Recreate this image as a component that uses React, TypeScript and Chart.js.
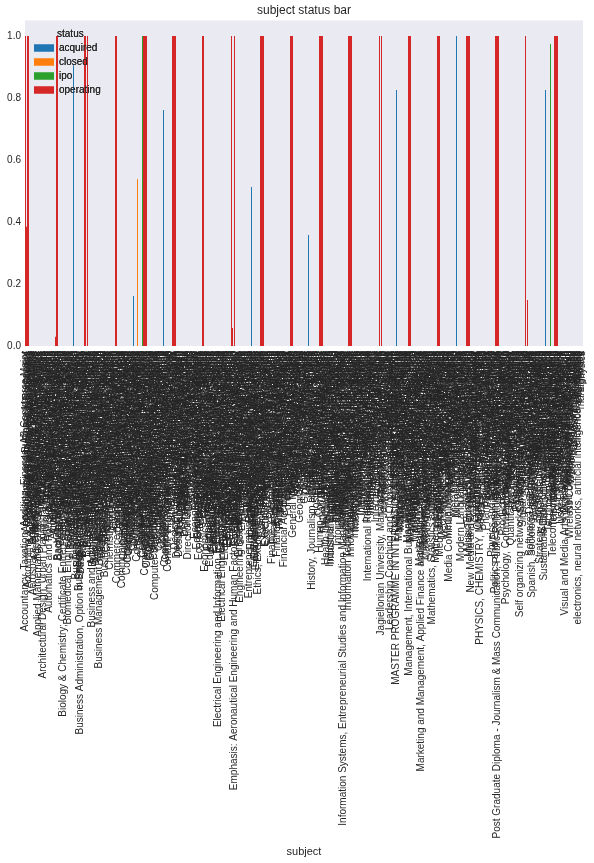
import { useEffect, useRef } from "react";
import { Chart, registerables } from "chart.js";

Chart.register(...registerables);

// ---------- categories (subject), in plotted order ----------
const subjectsA: string[] = [
  "Accountancy, Taxation, Auditing, Finance; AB Commerce Major", // 0
  "Accountancy and Business Management",
  "Accountancy and Finance, Economics",
  "Accounting & Finance, International Business Studies",
  "Accounting and Financial Management",
  "Accounting and Information Systems",
  "Actuarial Science and Statistics",
  "Advertising and Marketing Communications",
  "Aerospace Engineering, Mechanical Engineering Minor",
  "Aerospace Engineering and Astronautics",
  "African American Studies, Political Science", // 10
  "Agricultural Economics and Rural Development",
  "American Studies and History, Literature",
  "Applied Mathematics and Computational Science, Physics Minor",
  "Applied Mathematics and Statistics",
  "Applied Physics and Electronics",
  "Applied Economics and Management",
  "Arabic and Middle Eastern Studies",
  "Architectural Design, Urban Planning and Landscape Architecture Studies",
  "Architecture and Urban Design",
  "Art History and Visual Culture", // 20
  "Artificial Intelligence and Cognitive Science",
  "Arts and Sciences, Liberal Studies",
  "Astrophysics and Space Science",
  "Automatics and Robotics, Engineering and IT Management",
  "Automation and Control Engineering",
  "Automotive Engineering and Design",
  "Aviation Management and Operations",
  "Avionics and Aircraft Systems Engineering",
  "Audio Engineering and Sound Production",
  "Audiovisual Communication and Media", // 30
  "Aeronautics and Astronautics",
];

const subjectsB: string[] = [
  "Bachelor of Arts, Business Economics", // 32
  "Bachelor of Commerce, Finance and Marketing",
  "Bachelor of Science in Business Administration",
  "Banking and Finance, Risk Management",
  "Behavioral Economics and Decision Making",
  "Biochemistry and Molecular Biology",
  "Biology & Chemistry; Certificate Entrepreneurship and Innovation Studies Program",
  "Biology and Environmental Science",
  "Biological Sciences, Neuroscience", // 40
  "Bioengineering and Biomedical Devices",
  "Bioinformatics and Computational Biology",
  "Biomedical Engineering, Electrical and Computer Engineering",
  "Biomedical Engineering and Biomechanics",
  "Biotechnology and Life Sciences",
  "Brand Management and Consumer Behavior",
  "Broadcast Journalism and Media Production",
  "Business and Public Administration",
  "Business & Economics, Finance Concentration",
  "Business Administration and Economics", // 50
  "Business Administration and Management, General",
  "Business Administration, Finance",
  "Business Administration, Marketing and Strategy",
  "Business Administration (MBA), General Management",
  "Business Administration, Option in Entrepreneurship and Small Business Management",
  "Business Administration - Finance and Accounting",
  "Business Analytics and Data Science",
  "Business Communication and Public Relations",
  "Business Economics and Public Policy",
  "Business Economics and Finance, Statistics", // 60
  "Business Engineering and Management",
  "Business Informatics and Information Systems",
  "Business Information Systems and Analytics",
  "Business Law and Corporate Governance",
  "Business Studies, Marketing and Sales",
  "Business and Accounting, Finance",
  "Business and Administration, International Trade and Logistics",
  "Business and Economics, International Business",
  "Business and Finance, Corporate Strategy",
  "Business and Management Studies, Leadership", // 70
  "Business and Marketing, Advertising",
  "Business and Technology Management",
  "Business Management and Entrepreneurship",
  "Business Management, Marketing and Human Resources Management",
  "Business Management, Finance and Accounting",
  "Business Strategy and Innovation",
  "Business Systems and Information Technology",
  "Business, Entrepreneurship and Innovation",
  "Business/Managerial Economics, General",
  "Business Technology and Operations Management", // 80
  "Business, Law and Economics",
];

const subjectsC: string[] = [
  "Chemical Engineering and Applied Chemistry", // 82
  "Chemical Engineering, Process Systems",
  "Chemistry and Materials Science",
  "Chemistry and Biochemistry, Pre-Medical Studies",
  "Chinese Language and Literature",
  "Cinema Studies and Film Production",
  "City Planning and Regional Development",
  "Civil Engineering, Structural Engineering",
  "Classics and Ancient History", // 90
  "Cognitive Science and Psychology",
  "Commerce, Economics and Business Administration",
  "Commerce and Management Accounting",
  "Commerce and Finance, Accounting",
  "Communication and Information Sciences",
  "Communication Design and Visual Arts",
  "Communications, Media Studies and Public Relations",
  "Communications and Digital Media",
  "Communication and Media Studies, Journalism",
  "Comparative Literature and Cultural Studies", // 100
  "Computational Biology and Bioinformatics",
  "Computer Applications and Software Development",
  "Computer Engineering and Embedded Systems",
  "Computer Engineering and Computer Science",
  "Computer Graphics and Visualization",
  "Computer Information Systems, Business",
  "Computer Networks and Distributed Systems",
  "Computer Programming and Analysis",
  "Computer Science and Software Engineering",
  "Computer Science & Engineering, Networks", // 110
  "Computer Science and Economics",
  "Computer Science and Engineering, Algorithms",
  "Computer Science and Mathematics",
  "Computer Science, Artificial Intelligence",
  "Computer Science, Business Administration",
  "Computer Science, Economics and Statistics",
  "Computer Science, Mathematics and Statistics",
  "Computer Science, Physics and Astronomy",
  "Computer Science/Mathematics, Double Major",
  "Computer Software Engineering and Programming", // 120
  "Computer Systems and Networking",
  "Computer Systems Engineering and Architecture",
  "Computer Vision and Machine Learning",
  "Computer and Information Science, Databases",
  "Computer and Information Sciences, General",
  "Computer engineering and telecommunications",
  "Computer science and software engineering",
  "Computing and Information Technology",
  "Computing and Information Systems, Networks",
  "Computer Science and Information Technology Systems", // 130
  "Computing Science and Mathematics",
  "Conflict Resolution and Peace Studies",
  "Construction Management and Engineering",
  "Consumer Behavior and Marketing Research",
  "Content Strategy and Digital Publishing",
  "Control Systems Engineering",
  "Corporate Communication and Public Affairs",
  "Corporate Finance and Investment Banking",
  "Corporate Law and Governance",
  "Computer Science (Honours), Software Systems", // 140
  "Computer Science and Business Administration",
  "Control Engineering and Automation",
  "Control, Information and Communication Systems",
  "Creative Writing and English Literature",
  "Criminal Justice and Criminology",
  "Criminology and Sociology",
  "Cultural Studies and Media Anthropology",
];

const subjectsD: string[] = [
  "Dance and Performance Studies", // 148
  "Data Science and Analytics",
  "Decision Sciences and Operations Research", // 150
  "Dentistry and Oral Health Sciences",
  "Design & Multimedia, Interactive Media Design",
  "Design and Visual Communication",
  "Design Engineering and Product Development",
  "Design and Technology, Industrial Design",
  "Development Economics and Policy",
  "Development Studies and Global Health",
  "Digital Design and Interactive Media",
  "Digital Marketing and Social Media",
  "Digital Media and Communication Studies", // 160
  "Digital Media Arts and Animation",
  "Diplomacy and International Relations",
  "Direction and Production of Film and Television",
  "Documentary Film and Photography",
  "Drama and Theatre Arts",
  "Doctor of Medicine (MD)",
];

const subjectsE: string[] = [
  "E-Commerce and Digital Business", // 167
  "Earth Sciences and Geology",
  "Ecology and Evolutionary Biology",
  "Econometrics and Quantitative Economics", // 170
  "Economic History and Development",
  "Economics and Political Science, Philosophy",
  "Economics and International Development",
  "Economics & Finance, International Economics",
  "Economics and Business Administration",
  "Economics and Computer Science",
  "Economics and Finance, Banking",
  "Economics and Management Science",
  "Economics and Mathematics, Statistics",
  "Economics, Econometrics and Business Statistics", // 180
  "Economics, Finance and Accounting",
  "Economics, Philosophy and Politics",
  "Economics/Business Administration, Finance",
  "Education and Human Development",
  "Educational Technology and Instructional Design",
  "Electrical Engineering and Power Systems",
  "Electrical Engineering & Computer Science",
  "Electrical Engineering and Computer Science",
  "Electrical Engineering, Computer Engineering",
  "Electrical Engineering, Electronics", // 190
  "Electrical Engineering, Signal Processing",
  "Electrical Engineering, Telecommunications",
  "Electrical Engineering and Information Technology, Microelectronics and Chip Design",
  "Electrical and Computer Engineering",
  "Electrical and Electronic Engineering",
  "Electrical and Electronics Engineering, Power",
  "Electrical Engineering - Communication and Control Systems",
  "Electrical engineering and automation",
  "Electronic Engineering and Microelectronics",
  "Electronic Commerce and Information Systems", // 200
  "Electronics and Computer Engineering",
  "Electronics Engineering and Communication",
  "Electronics and Communication Engineering",
  "Electronics and Telecommunications",
  "Embedded Systems and Hardware Design",
  "Emergency Medicine and Public Health",
  "Emerging Media and Digital Communication",
  "Emphasis in Finance and Investments",
  "Emphasis: Aeronautical Engineering and Human Factors, Applied Psychology and Ergonomics Lab",
  "Energy Engineering and Renewable Energy", // 210
  "Energy Management and Sustainability",
  "Engineering and Technology Management",
  "Engineering Management and Systems",
  "Engineering Physics and Applied Mathematics",
  "Engineering Science, Mechanical and Aerospace Design",
  "Engineering and Applied Science",
  "Engineering and Management, Industrial",
  "Engineering, Computer Science",
  "English and Comparative Literature",
  "English Language and Literature", // 220
  "English Literature and Creative Writing",
  "English and Creative Writing",
  "Enterprise Architecture and Systems",
  "Entrepreneurship and Innovation Management Program",
  "Entrepreneurship and Family Business",
  "Entrepreneurship & Innovation, Management",
  "Entrepreneurship and Small Business",
  "Entrepreneurship, Marketing and Strategy",
  "Entertainment Business and Media Management",
  "Entrepreneurial Studies, New Venture Creation", // 230
  "Environmental Engineering and Water Resources",
  "Environmental Science and Policy",
  "Ethics, Executive Leadership and Public Policy Studies",
  "Ethics and Philosophy of Technology",
  "European Studies and Political Science",
  "Executive MBA, Global Leadership",
  "Executive Education, Leadership Program",
  "Executive Management Program",
  "Exercise Science and Kinesiology",
  "Experimental Psychology and Neuroscience", // 240
  "Executive Program in General Management",
];

const subjectsF: string[] = [
  "Fashion Design and Merchandising", // 242
  "Film and Television Production",
  "Film Studies and Screenwriting",
  "Filmmaking and Digital Cinema",
  "Finance and Investment Management",
  "Finance & Accounting, Investment Management",
  "Finance and Accounting",
  "Finance and Economics, Risk Management",
  "Finance and Management, Banking", // 250
  "Finance, Economics and Econometrics",
  "Finance, Marketing and International Business",
  "Finance/Accounting and Taxation",
  "Financial Economics and Econometrics",
  "Financial Engineering and Risk Analysis",
  "Financial Management and Banking",
  "Financial Mathematics and Statistics",
  "Financial Services and Insurance",
  "Financial Accounting and Corporate Governance",
  "Fine Arts and Art History", // 260
  "Food Science and Technology",
  "Foreign Languages and Literatures",
  "Foreign Service, International Politics",
  "Forestry and Natural Resources",
  "French Language and Civilization",
  "French Literature and Linguistics",
];

const subjectsG: string[] = [
  "Game Design and Development", // 267
  "General Management, Corporate Strategy",
  "General Business Administration",
  "General Engineering and Design", // 270
  "General Management Program",
  "General Studies, Liberal Arts",
  "Genetics and Molecular Biology",
  "Geographic Information Systems",
  "Geography and Environmental Studies",
  "Geology and Earth Sciences",
  "Geophysics and Seismology",
  "German Studies",
  "Global Affairs and Public Policy",
  "Global Business and Management", // 280
  "Government and Economics",
  "Graphic Design and Typography",
  "Graphic Design and Illustration",
  "Greek and Latin",
];

const subjectsH: string[] = [
  "Health Administration and Policy", // 285
  "Health Sciences and Nutrition",
  "History, Journalism and Mass Communication Studies",
  "History and Philosophy of Science",
  "History and Political Science",
  "History of Art and Architecture", // 290
  "Hospitality Management and Tourism",
  "Hotel Management and Catering",
  "Human Biology and Society",
  "Human Resources Management",
  "Human-Computer Interaction, Design Studies",
  "Human Resource Management",
  "Human Development and Family Studies",
  "Human Factors and Ergonomics",
  "Humanities and Social Sciences",
  "Hydrology and Water Resources", // 300
  "Health Informatics and Information Management",
  "Hardware Engineering and VLSI Design",
];

const subjectsI: string[] = [
  "Illustration and Animation", // 303
  "Industrial Design and Ergonomics",
  "Industrial Engineering and Management Science",
  "Industrial Engineering and Operations Research",
  "Industrial Management and Logistics",
  "Industrial and Systems Engineering",
  "Informatics and Computer Engineering",
  "Information Management and Systems", // 310
  "Information Science and Technology",
  "Information Security and Cryptography",
  "Information Systems and Decision Sciences",
  "Information Systems Management",
  "Information Systems and Technology",
  "Information Systems, Business Analysis",
  "Information Systems, Computer Science",
  "Information Systems, Entrepreneurial Studies and Information Management, Business Administration Minor",
  "Information Technology and Systems",
  "Information Technology Management", // 320
  "Information and Communication Technology",
  "Information and Computer Science",
  "Information Technology, Telecommunications and Systems",
  "Information and Library Science",
  "Innovation and Technology Management",
  "Innovation Management and Entrepreneurship",
  "Insurance and Risk Management",
  "Integrated Marketing Communications",
  "Interaction Design and Human Factors",
  "Interactive Media and Game Development", // 330
  "Interactive Telecommunications Program",
  "Interdisciplinary Studies",
  "Interior Design and Architecture",
  "International Affairs and Diplomacy",
  "International Business and Trade",
  "International Business and Marketing",
  "International Economics and Finance",
  "International Finance and Banking",
  "International Management",
  "International Marketing", // 340
  "International Relations",
  "International Relations and Economics",
  "International Relations and European Union Studies",
  "International Studies and Economics",
  "International Trade and Development",
  "International Business Management",
  "International Development",
  "International Law and Diplomacy",
  "International Politics",
  "International Security Studies", // 350
  "Internet Technologies and Applications",
  "Investment Banking and Finance",
  "Islamic Studies and Arabic",
  "Italian Studies",
];

const subjectsJ: string[] = [
  "Jazz Performance and Composition", // 355
  "Jagiellonian University, Management and Social Communication",
  "Japanese Language and Culture",
  "Journalism and Political Science",
  "Journalism and Mass Communication",
  "Juris Doctor (J.D.), Law", // 360
];

const subjectsKL: string[] = [
  "Kinesiology and Exercise Science", // 361
  "Korean Studies",
  "Landscape Architecture",
  "Law and Economics",
  "Leadership Coaching and Organizational Development Studies",
  "Leadership and Management",
  "Liberal Arts and Sciences",
  "Linguistics and Cognitive Science",
  "Literature and Creative Writing",
  "Logistics and Supply Chain Management", // 370
];

const subjectsM: string[] = [
  "MASTER PROGRAMME IN INTERNATIONAL BUSINESS MANAGEMENT", // 371
  "MBA, Entrepreneurship",
  "MBA, Finance and Strategy",
  "Machine Learning and Artificial Intelligence",
  "Management and Organizational Studies",
  "Management & Technology, Engineering",
  "Management Consulting and Strategy",
  "Management Engineering",
  "Management Information Systems",
  "Management Science and Operations", // 380
  "Management Science and Engineering",
  "Management Studies",
  "Management and Economics, Public Policy",
  "Management, International Business and Entrepreneurship Studies, MBA",
  "Management and Marketing",
  "Management of Technology and Innovation",
  "Management, Finance and Accounting",
  "Management, Strategy and Organization",
  "Managerial Economics and Strategy",
  "Manufacturing Engineering and Operations", // 390
  "Marine Biology and Oceanography",
  "Market Research and Consumer Insights",
  "Marketing and Brand Management",
  "Marketing & Advertising",
  "Marketing Communications and Public Relations",
  "Marketing and Management, Applied Finance and Banking, International Economics and Trade",
  "Marketing Management",
  "Marketing and Communications",
  "Marketing and Finance, Business Economics",
  "Marketing, Advertising and Public Relations", // 400
  "Marketing, Economics and Consumer Behavior",
  "Mass Communication and Journalism",
  "Master of Business Administration",
  "Master of Science in Management",
  "Materials Science",
  "Materials Science and Engineering",
  "Mathematics, Statistics and Operations Research, Economics",
  "Mathematics and Statistics",
  "Mathematics and Computer Science",
  "Mathematics and Economics", // 410
  "Mathematics and Physics, Applied Mathematics",
  "Mathematics, Economics and Finance",
  "Mechanical Engineering and Design",
  "Mechanical and Aerospace Engineering",
  "Mechanical Engineering, Robotics and Control",
  "Mechanics and Applied Mathematics",
  "Mechatronics and Robotics",
  "Mechatronics Engineering and Automation",
  "Media and Cultural Studies",
  "Media Arts and Sciences", // 420
  "Media Studies and Cultural Theory",
  "Media and Communications",
  "Media Management and Entrepreneurship",
  "Media Communication and Journalism, Film Studies",
  "Media Technology and Design",
  "Medical Physics and Biophysics",
  "Medicine and Surgery (MBBS)",
  "Medieval Studies",
  "Mental Health Counseling",
  "Metallurgy and Materials Engineering", // 430
  "Microbiology and Immunology",
  "Microelectronics and Nanotechnology",
  "Middle Eastern Studies",
  "Modern History and Politics",
  "Modern Languages",
  "Modern Languages and Literatures, Philosophy",
  "Molecular Biology and Genetics",
  "Motion Pictures and Television",
  "Multimedia and Web Design",
  "Multimedia Design and Production", // 440
  "Museum Studies",
  "Music Performance",
  "Music Business and Entertainment Industries",
  "Music Technology and Production Engineering",
  "Musicology and Music Theory",
];

const subjectsNO: string[] = [
  "New Media and Digital Culture, Visual Arts and Design", // 446
  "Nanotechnology and Nanoscience",
  "Network Engineering and Security",
  "Neuroscience and Behavior",
  "Nursing and Midwifery", // 450
  "Operations Management and Logistics",
  "Operations Research and Statistics",
  "Organizational Behavior and Leadership",
  "Oriental Studies",
];

const subjectsP: string[] = [
  "PHYSICS, CHEMISTRY, MATHEMATICS AND BIOLOGY (PCMB)", // 455
  "Painting and Printmaking",
  "Peace Studies and Conflict Resolution",
  "Performing Arts",
  "Pharmaceutical Sciences",
  "Pharmacology and Toxicology", // 460
  "Pharmacy and Pharmaceutical Sciences",
  "Philosophy and Religious Studies",
  "Philosophy, Politics and Economics",
  "Photography and Visual Media",
  "Physics and Engineering Physics",
  "Physics and Astronomy",
  "Physics and Mathematics, Theoretical Physics",
  "Political Economy",
  "Political Science and Government",
  "Politics and Economics, Public Administration and Law", // 470
  "Politics and International Studies",
  "Post Graduate Diploma - Journalism & Mass Communication, Public Relations, Advertising and Media Studies",
  "Political Science and Economics",
  "Portuguese and Brazilian Studies",
  "Pre-Medicine, Biology",
  "Product Design and Development",
  "Product Management",
  "Production Engineering and Management",
  "Professional Writing",
  "Project Management and Planning", // 480
  "Psychology, Communication and Cognitive Neuroscience",
  "Psychology and Behavioral Sciences",
  "Public Administration and Policy",
  "Public Health and Epidemiology",
  "Public Policy and Management",
];

const subjectsQR: string[] = [
  "Quantitative Finance and Risk Management", // 486
  "Quantum Physics and Optics",
  "Radio, Television and Film",
  "Real Estate and Urban Economics",
  "Religious Studies", // 490
  "Robotics and Autonomous Systems",
  "Russian and East European Studies",
  "Sales and Marketing",
  "Science and Technology Studies",
];

const subjectsS: string[] = [
  "Self organizing networks, Machine learning and Data mining", // 495
  "Semiconductor Physics and Devices",
  "Signal Processing and Control",
  "Signal processing and Communications",
  "Social Entrepreneurship",
  "Social Psychology", // 500
  "Social Sciences and Humanities",
  "Social Work and Social Policy",
  "Sociology and Criminology",
  "Sociology and Anthropology",
  "Software Development and Web Technologies",
  "Software Engineering and Testing",
  "Spanish, Sociology and Latin American Studies, History",
  "Spanish and Portuguese",
  "Speech Communication and Rhetoric",
  "Sports Management and Marketing", // 510
  "Statistics and Data Analysis",
  "Statistics and Economics",
  "Strategic Management and Consulting",
  "Strategy and Organization",
  "Strategy and Sustainability, Business Innovation",
  "Structural Engineering",
  "Studio Art and Sculpture",
  "Supply Chain Management and Logistics",
  "Sustainable Development and Environmental Policy",
  "Systems Engineering", // 520
  "Systems Design Engineering",
  "Systems Analysis and Design",
  "Taxation and Fiscal Policy",
  "Technology Management and Innovation",
  "Technology and Innovation",
  "Telecommunication Engineering",
  "Telecommunications Management",
];

const subjectsTZ: string[] = [
  "Telecommunications and Network Engineering", // 528
  "Television Production and Broadcasting",
  "Theatre and Performance Studies", // 530
  "Theology and Religious Studies",
  "Tourism Management and Hospitality",
  "Translation and Interpreting",
  "Urban Planning and Policy",
  "Urban Studies and Planning",
  "User Experience Design and Research",
  "Veterinary Medicine",
  "Video Game Design and Development",
  "Visual Arts and Graphic Design",
  "Visual and Media Arts, Digital Media Production and Design", // 540
  "Visual Communication",
  "Visual Communication Design",
  "Web Design and Development",
  "Web Development and E-Commerce",
  "Wireless Communications and Networking",
  "Women's and Gender Studies",
  "Zoology and Animal Biology",
];

const subjectsLower: string[] = [
  "accounting", // 548
  "business administration",
  "computer science", // 550
  "economics",
  "electrical engineering",
  "electronics, neural networks, artificial intelligence and robotics",
  "engineering",
  "finance",
  "management",
  "physics",
];

const subjects: string[] = [
  ...subjectsA, ...subjectsB, ...subjectsC, ...subjectsD, ...subjectsE,
  ...subjectsF, ...subjectsG, ...subjectsH, ...subjectsI, ...subjectsJ,
  ...subjectsKL, ...subjectsM, ...subjectsNO, ...subjectsP, ...subjectsQR,
  ...subjectsS, ...subjectsTZ, ...subjectsLower,
];

// ---------- series: share of each status per subject [subject index, value] ----------
const acquiredValues: [number, number][] = [
  [48, 0.906], [108, 0.161], [138, 0.761], [226, 0.513],
  [283, 0.358], [371, 0.826], [431, 1.0], [520, 0.826],
];
const closedValues: [number, number][] = [[112, 0.539]];
const ipoValues: [number, number][] = [[117, 1.0], [525, 0.974]];
const operatingValues: [number, number][] = [
  [0, 1], [1, 0.385], [2, 1], [3, 1],
  [30, 0.03], [31, 1], [32, 1],
  [59, 1], [60, 1], [62, 1],
  [90, 1], [91, 1],
  [118, 1], [119, 1], [120, 1], [121, 1],
  [147, 1], [148, 1], [149, 1], [150, 1],
  [177, 1], [178, 1],
  [206, 1], [207, 0.058], [209, 1],
  [235, 1], [236, 1], [237, 1], [238, 1],
  [265, 1], [266, 1], [267, 1],
  [294, 1], [295, 1], [296, 1], [297, 1],
  [323, 1], [324, 1], [325, 1], [326, 1],
  [354, 1], [356, 1],
  [383, 1], [384, 1], [385, 1],
  [412, 1], [413, 1], [414, 1],
  [441, 1], [442, 1], [443, 1], [444, 1],
  [470, 1], [471, 1], [472, 1], [473, 1],
  [500, 1], [502, 0.148],
  [529, 1], [530, 1], [531, 1], [532, 1],
];

const statusNames = ["acquired", "closed", "ipo", "operating"];
const statusColors = ["#1f77b4", "#ff7f0e", "#2ca02c", "#d62728"];
const yTickValues = [0, 0.2, 0.4, 0.6, 0.8, 1.0];

const TEXT = "#262626";
const FONT = "'Liberation Sans', Arial, Helvetica, sans-serif";

function toSeries(points: [number, number][]): (number | null)[] {
  const arr: (number | null)[] = subjects.map(() => null);
  points.forEach(([i, v]) => {
    arr[i] = v;
  });
  return arr;
}

const plotBackground = {
  id: "plotBackground",
  beforeDraw(chart: any) {
    const { ctx, chartArea } = chart;
    if (!chartArea) return;
    ctx.save();
    ctx.fillStyle = "#EAEAF2";
    ctx.fillRect(chartArea.left, chartArea.top, chartArea.right - chartArea.left, chartArea.bottom - chartArea.top);
    ctx.restore();
  },
};

const legendPlacement = {
  id: "legendPlacement",
  afterLayout(chart: any) {
    const l = chart.legend;
    const area = chart.chartArea;
    if (l && area) {
      l.left = area.left + 5;
      l.right = l.left + l.width;
      l.top = area.top;
      l.bottom = area.top + l.height;
    }
  },
  afterDatasetsDraw(chart: any) {
    if (chart.legend) chart.legend.draw();
  },
};

export default function App() {
  const canvasRef = useRef<HTMLCanvasElement | null>(null);

  useEffect(() => {
    const canvas = canvasRef.current;
    if (!canvas) return;
    const series = [acquiredValues, closedValues, ipoValues, operatingValues];
    const chart = new Chart(canvas, {
      type: "bar",
      data: {
        labels: subjects,
        datasets: statusNames.map((name, k) => ({
          label: name,
          data: toSeries(series[k]),
          backgroundColor: statusColors[k],
          borderWidth: 0,
          grouped: false,
          categoryPercentage: 1,
          barPercentage: 1,
          inflateAmount: 0,
        })),
      },
      options: {
        responsive: false,
        animation: false,
        events: [],
        devicePixelRatio: 1,
        layout: { padding: { left: 0, right: 11, top: 0, bottom: 0 } },
        font: { family: FONT },
        plugins: {
          title: {
            display: true,
            fullSize: false,
            text: "subject status bar",
            color: TEXT,
            font: { family: FONT, size: 12, weight: "normal" },
            padding: { top: 3, bottom: 3.1 },
          },
          legend: {
            position: "chartArea",
            align: "start",
            title: {
              display: true,
              text: "status",
              color: TEXT,
              font: { family: FONT, size: 10, lineHeight: 0.85 },
              padding: { top: 8.5, bottom: 1.5 },
            },
            labels: {
              boxWidth: 20,
              boxHeight: 7,
              padding: 4,
              color: TEXT,
              font: { family: FONT, size: 10 },
            },
          },
          tooltip: { enabled: false },
        },
        scales: {
          x: {
            type: "category",
            offset: true,
            grid: { display: false, drawTicks: false },
            border: { display: false },
            ticks: {
              autoSkip: false,
              minRotation: 90,
              maxRotation: 90,
              padding: 5,
              color: TEXT,
              font: { family: FONT, size: 10 },
            },
            title: {
              display: true,
              text: "subject",
              color: TEXT,
              font: { family: FONT, size: 11 },
              padding: { top: 0, bottom: 4 },
            },
            afterFit(scale: any) {
              scale.height = 517;
              scale.paddingLeft = 0;
              scale.paddingRight = 0;
            },
          },
          y: {
            min: 0,
            max: 1.05,
            grid: { display: false, drawTicks: false },
            border: { display: false },
            ticks: {
              padding: 4,
              color: TEXT,
              font: { family: FONT, size: 10 },
              callback: (v: any) => Number(v).toFixed(1),
            },
            afterBuildTicks(scale: any) {
              scale.ticks = yTickValues.map((v) => ({ value: v }));
            },
            afterFit(scale: any) {
              scale.width = 25;
            },
          },
        },
      },
      plugins: [plotBackground, legendPlacement],
    } as any);
    return () => chart.destroy();
  }, []);

  return (
    <div style={{ position: "absolute", left: 0, top: 0, width: 594, height: 863, background: "#ffffff" }}>
      <canvas ref={canvasRef} width={594} height={863} style={{ display: "block", width: 594, height: 863 }} />
    </div>
  );
}
